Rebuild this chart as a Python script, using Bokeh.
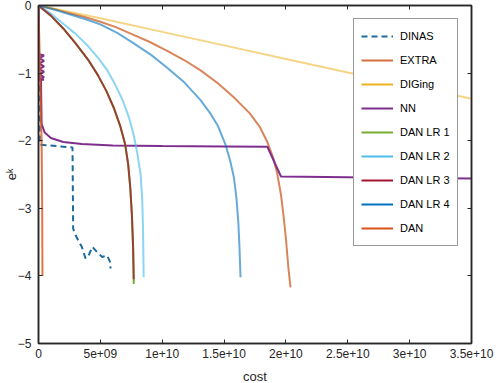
from bokeh.plotting import figure
from bokeh.models import Range1d, LinearAxis, FixedTicker, CustomJSTickFormatter, Legend, LegendItem
from bokeh.embed import file_html
from bokeh.resources import INLINE

# ---------------- data ----------------
series_names = ["DINAS", "EXTRA", "DIGing", "NN", "DAN LR 1", "DAN LR 2", "DAN LR 3", "DAN LR 4", "DAN"]

dinas_cost = [0, 1e8, 1.5e9, 2.75e9, 2.8e9, 3.0e9, 3.5e9, 3.8e9, 4.05e9, 4.35e9, 4.75e9, 5.15e9, 5.55e9, 5.8e9, 5.82e9]
dinas_err = [0, -2.06, -2.08, -2.10, -3.30, -3.40, -3.57, -3.74, -3.70, -3.57, -3.65, -3.72, -3.70, -3.80, -3.89]

extra_cost = [0, 1.25e9, 2.5e9, 3.75e9, 5e9, 6.25e9, 7.5e9, 9e9, 1.04e10, 1.18e10, 1.31e10, 1.45e10, 1.58e10,
              1.71e10, 1.79e10, 1.85e10, 1.9e10, 1.93e10, 1.96e10, 1.98e10, 2.0e10, 2.02e10, 2.037e10]
extra_err = [0, -0.05, -0.11, -0.17, -0.24, -0.32, -0.42, -0.54, -0.67, -0.81, -0.96, -1.15, -1.36,
             -1.60, -1.80, -2.02, -2.27, -2.49, -2.80, -3.10, -3.45, -3.88, -4.17]

diging_cost = [0, 5e9, 1e10, 1.5e10, 2e10, 2.5e10, 3e10, 3.5e10]
diging_err = [0, -0.19, -0.39, -0.59, -0.79, -0.99, -1.18, -1.38]

nn_cost = [0, 4e7, 4.5e8, 5e7, 4.5e8, 5e7, 4.5e8, 5e7, 4.5e8, 5e7, 4.5e8, 5e7, 4.5e8, 2e8,
           2.5e8, 5e8, 1.0e9, 2e9, 3.5e9, 6e9, 1e10, 1.5e10, 1.85e10, 1.96e10, 2.5e10, 3e10, 3.5e10]
nn_err = [0, -0.72, -0.74, -0.78, -0.82, -0.86, -0.90, -0.94, -0.98, -1.02, -1.06, -1.09, -1.10, -1.10,
          -1.75, -1.88, -1.96, -2.02, -2.05, -2.07, -2.08, -2.085, -2.09, -2.53, -2.54, -2.55, -2.56]

lr1_cost = [0, 1e9, 2e9, 3e9, 4e9, 4.8e9, 5.5e9, 6.1e9, 6.6e9, 7.0e9, 7.25e9, 7.42e9, 7.55e9, 7.65e9, 7.7e9]
lr1_err = [0, -0.15, -0.34, -0.56, -0.80, -1.03, -1.27, -1.52, -1.78, -2.05, -2.35, -2.70, -3.10, -3.60, -4.12]

lr2_cost = [0, 1e9, 2e9, 3e9, 4e9, 4.8e9, 5.5e9, 6.2e9, 6.8e9, 7.3e9, 7.7e9, 8.0e9, 8.25e9, 8.38e9, 8.45e9, 8.5e9]
lr2_err = [0, -0.12, -0.27, -0.42, -0.60, -0.77, -0.94, -1.17, -1.40, -1.65, -1.92, -2.20, -2.50, -2.85, -3.30, -4.02]

lr3_cost = [0, 1e9, 2e9, 3e9, 4e9, 4.8e9, 5.5e9, 6.1e9, 6.6e9, 7.0e9, 7.25e9, 7.42e9, 7.55e9, 7.65e9, 7.7e9]
lr3_err = [0, -0.15, -0.34, -0.56, -0.80, -1.03, -1.27, -1.52, -1.78, -2.05, -2.35, -2.70, -3.10, -3.60, -4.05]

lr4_cost = [0, 1.25e9, 2.5e9, 3.75e9, 5e9, 6.4e9, 7.7e9, 9.1e9, 1.04e10, 1.18e10, 1.31e10, 1.39e10, 1.45e10,
            1.51e10, 1.55e10, 1.58e10, 1.6e10, 1.615e10, 1.625e10, 1.633e10]
lr4_err = [0, -0.06, -0.13, -0.20, -0.28, -0.41, -0.56, -0.73, -0.92, -1.14, -1.40, -1.60, -1.78,
           -2.05, -2.30, -2.55, -2.85, -3.20, -3.60, -4.02]

dan_cost = [0, 1e8, 2.5e8, 3e8, 3.2e8]
dan_err = [0, -0.80, -2.00, -3.00, -4.00]

x_ticks = [0, 5e9, 1e10, 1.5e10, 2e10, 2.5e10, 3e10, 3.5e10]
x_tick_labels = ["0", "5e+09", "1e+10", "1.5e+10", "2e+10", "2.5e+10", "3e+10", "3.5e+10"]
y_ticks = [-5, -4, -3, -2, -1, 0]

colors = ["#1f6a9c", "#d2703f", "#edb120", "#7e2f8e", "#77ac30", "#4dbeee", "#a2142f", "#0072bd", "#d95319"]
alphas = [1.0, 0.85, 0.55, 1.0, 1.0, 0.65, 0.7, 0.6, 0.8]
dashes = ["6 4", "solid", "solid", "solid", "solid", "solid", "solid", "solid", "solid"]

all_x = [dinas_cost, extra_cost, diging_cost, nn_cost, lr1_cost, lr2_cost, lr3_cost, lr4_cost, dan_cost]
all_y = [dinas_err, extra_err, diging_err, nn_err, lr1_err, lr2_err, lr3_err, lr4_err, dan_err]

FONT = "Liberation Sans"
AXC = "#262626"

p = figure(frame_width=433, frame_height=338, min_border_left=38, min_border_top=5,
           min_border_right=26, min_border_bottom=40,
           x_range=Range1d(0, 3.5e10), y_range=Range1d(-5, 0),
           output_backend="svg", toolbar_location=None)
p.margin = (0, 0, -8, 0)
p.background_fill_color = "white"
p.border_fill_color = "white"
p.outline_line_color = AXC
p.outline_line_width = 1.5
p.grid.visible = False

fmt = CustomJSTickFormatter(args=dict(tv=x_ticks, tl=x_tick_labels),
                            code="const i = tv.findIndex(t => Math.abs(t - tick) < 1e3); return i >= 0 ? tl[i] : '';")
blank = CustomJSTickFormatter(code="return '';")

xa = p.xaxis[0]
xa.ticker = FixedTicker(ticks=x_ticks)
xa.formatter = fmt
xa.axis_label = "cost"
ya = p.yaxis[0]
ya.ticker = FixedTicker(ticks=y_ticks)
ya.axis_label = "eᵏ"

for ax in (xa, ya):
    ax.major_tick_in = 4
    ax.major_tick_out = 0
    ax.minor_tick_line_color = None
    ax.axis_line_color = AXC
    ax.axis_line_width = 1.5
    ax.major_tick_line_color = AXC
    ax.major_label_text_font = FONT
    ax.major_label_text_font_size = "12px"
    ax.major_label_text_color = AXC
    ax.axis_label_text_font = FONT
    ax.axis_label_text_font_size = "13px"
    ax.axis_label_text_font_style = "normal"
    ax.axis_label_text_color = AXC
xa.major_label_standoff = 5
xa.axis_label_standoff = 8
ya.major_label_standoff = 7
ya.axis_label_standoff = -4

top = LinearAxis(ticker=FixedTicker(ticks=x_ticks), formatter=blank)
right = LinearAxis(ticker=FixedTicker(ticks=y_ticks), formatter=blank)
for ax in (top, right):
    ax.major_tick_in = 4
    ax.major_tick_out = 0
    ax.minor_tick_line_color = None
    ax.axis_line_color = AXC
    ax.axis_line_width = 1.5
    ax.major_tick_line_color = AXC
    ax.major_label_text_font_size = "1px"
    ax.major_label_standoff = 0
p.add_layout(top, "above")
p.add_layout(right, "right")

items = []
for name, xs, ys, c, a, d in zip(series_names, all_x, all_y, colors, alphas, dashes):
    p.line(x=xs, y=ys, line_color=c, line_alpha=a, line_width=2, line_dash=d)
    # one-point line: draws nothing in the plot, gives a full-strength legend swatch
    swatch = p.line(x=xs[:1], y=ys[:1], line_color=c, line_width=2, line_dash=d)
    items.append(LegendItem(label=name, renderers=[swatch]))

legend = Legend(items=items, location=(315, 97))
legend.label_text_font = FONT
legend.label_text_font_size = "11px"
legend.label_text_color = "black"
legend.glyph_width = 32
legend.glyph_height = 20
legend.label_height = 20
legend.label_standoff = 7
legend.spacing = 4
legend.padding = 7
legend.margin = 0
legend.border_line_color = "#333333"
legend.border_line_width = 1
legend.background_fill_color = "white"
legend.background_fill_alpha = 1
p.add_layout(legend, "center")

open("out.html", "w").write(file_html(p, INLINE))
